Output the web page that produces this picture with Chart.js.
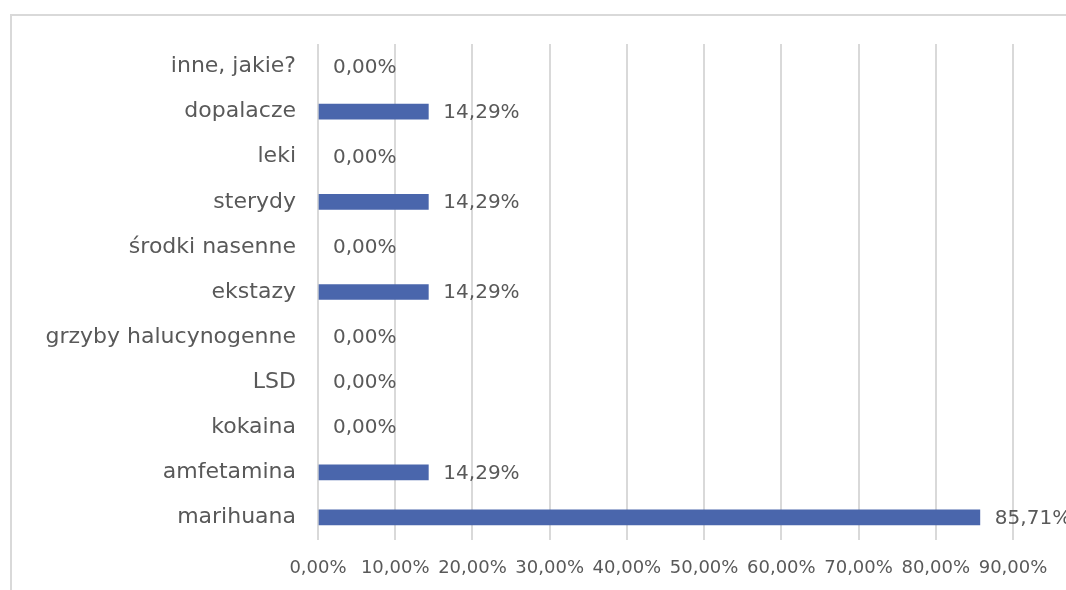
<!DOCTYPE html>
<html>
<head>
<meta charset="utf-8">
<script src="https://cdn.jsdelivr.net/npm/chart.js@4/dist/chart.umd.min.js"></script>
<style>
  html, body { margin: 0; padding: 0; background: #fff; overflow: hidden; }
  #wrap { position: relative; width: 1066px; height: 590px; }
  #frame { position: absolute; left: 10px; top: 14px; width: 1100px; height: 620px;
           border: 2px solid #d9d9d9; box-sizing: border-box; }
  canvas { position: absolute; left: 0; top: 0; }
</style>
</head>
<body>
<div id="wrap">
  <div id="frame"></div>
  <canvas id="c" width="1066" height="590"></canvas>
</div>
<script>
// kategorie od góry do dołu
const CATEGORIES = [
  "inne, jakie?",
  "dopalacze",
  "leki",
  "sterydy",
  "środki nasenne",
  "ekstazy",
  "grzyby halucynogenne",
  "LSD",
  "kokaina",
  "amfetamina",
  "marihuana"
];
const VALUES = [0, 14.29, 0, 14.29, 0, 14.29, 0, 0, 0, 14.29, 85.71];
const X_TICKS = [0, 10, 20, 30, 40, 50, 60, 70, 80, 90];

const FONT = "'DejaVu Sans', sans-serif";
const TEXT = "#595959";

function pct(v) {
  return v.toFixed(2).replace(".", ",") + "%";
}

// etykiety danych za końcem słupka
const barLabels = {
  id: "barLabels",
  afterDatasetsDraw(chart) {
    const ctx = chart.ctx;
    const meta = chart.getDatasetMeta(0);
    ctx.save();
    ctx.font = "20px " + FONT;
    ctx.fillStyle = TEXT;
    ctx.textAlign = "left";
    ctx.textBaseline = "middle";
    meta.data.forEach(function (bar, i) {
      ctx.fillText(pct(VALUES[i]), bar.x + 15, bar.y + 1);
    });
    ctx.restore();
  }
};

new Chart(document.getElementById("c"), {
  type: "bar",
  data: {
    labels: CATEGORIES,
    datasets: [{
      data: VALUES,
      backgroundColor: VALUES.map(function (v) { return v > 0 ? "#4a66ac" : "rgba(0,0,0,0)"; }),
      barThickness: 15
    }]
  },
  options: {
    indexAxis: "y",
    responsive: false,
    animation: false,
    layout: { padding: { top: 44, right: 53, bottom: 0, left: 0 } },
    plugins: { legend: { display: false }, tooltip: { enabled: false } },
    scales: {
      x: {
        min: 0,
        max: 90,
        afterBuildTicks(axis) {
          axis.ticks = X_TICKS.map(function (v) { return { value: v }; });
        },
        afterFit(axis) { axis.height = 50; },
        grid: { color: "#d9d9d9", lineWidth: 2, drawTicks: false },
        border: { display: false },
        ticks: {
          padding: 18,
          color: TEXT,
          font: { family: FONT, size: 18 },
          maxRotation: 0,
          autoSkip: false,
          callback: function (v) { return pct(v); }
        }
      },
      y: {
        afterFit(axis) { axis.width = 318; },
        grid: { display: false, drawTicks: false },
        border: { display: false },
        ticks: {
          padding: 22,
          color: TEXT,
          font: { family: FONT, size: 22 }
        }
      }
    }
  },
  plugins: [barLabels]
});
</script>
</body>
</html>
